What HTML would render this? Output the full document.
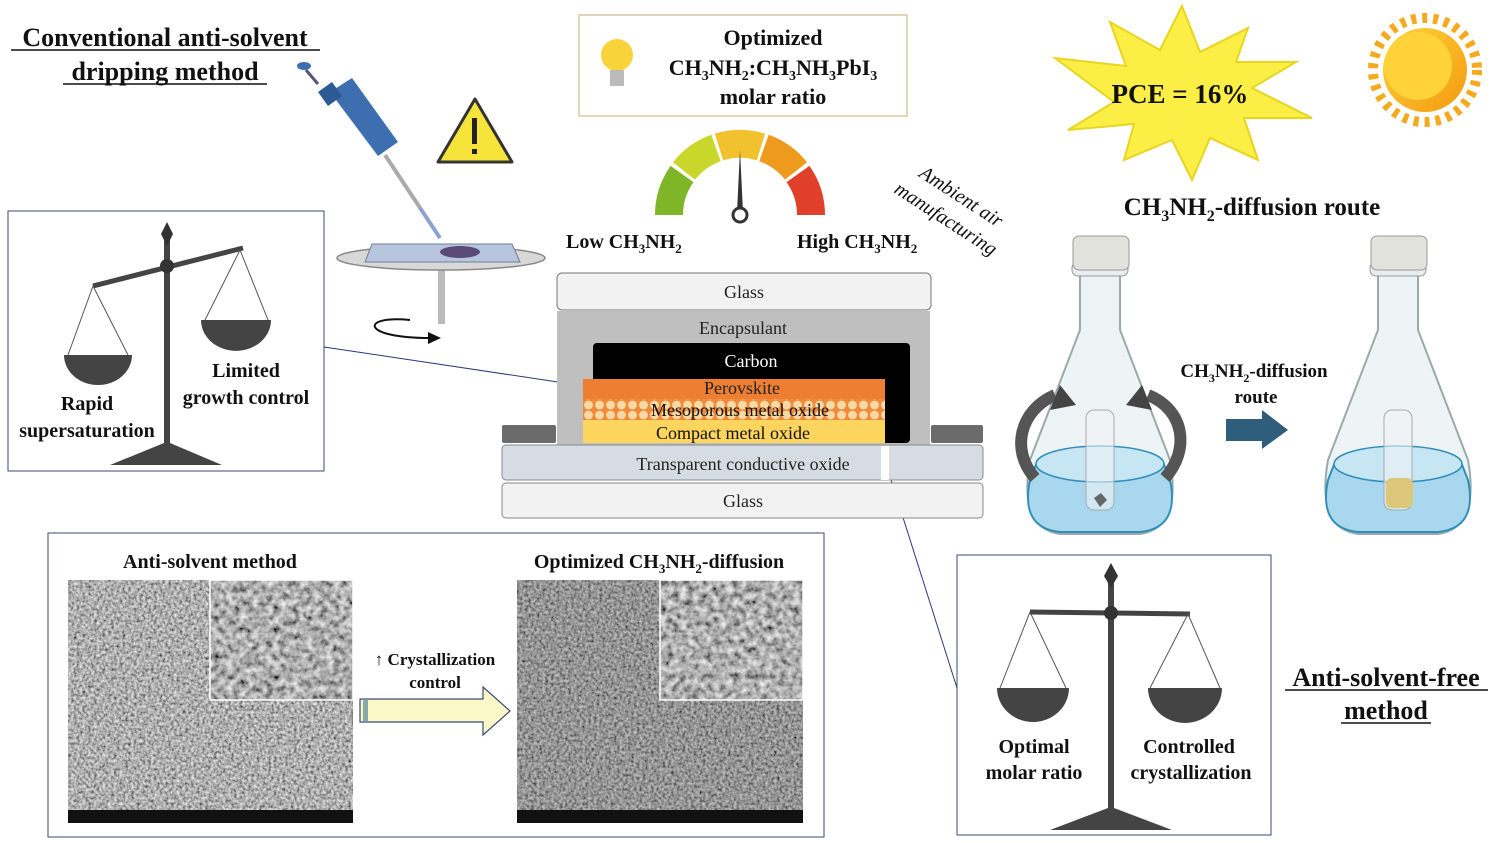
<!DOCTYPE html>
<html><head><meta charset="utf-8"><style>
html,body{margin:0;padding:0;background:#fff;}
svg{display:block;font-family:"Liberation Serif",serif;}
.b{font-weight:bold;}
</style></head><body>
<svg width="1496" height="843" viewBox="0 0 1496 843" xmlns="http://www.w3.org/2000/svg">
<defs>
<filter id="sem" x="0" y="0" width="100%" height="100%">
<feTurbulence type="fractalNoise" baseFrequency="0.35" numOctaves="3" seed="3"/>
<feColorMatrix type="matrix" values="1.1 0 0 0 -0.12  1.1 0 0 0 -0.12  1.1 0 0 0 -0.12  0 0 0 0 1"/>
</filter>
<filter id="sem2" x="0" y="0" width="100%" height="100%">
<feTurbulence type="fractalNoise" baseFrequency="0.15" numOctaves="3" seed="7"/>
<feColorMatrix type="matrix" values="1.2 0 0 0 -0.17  1.2 0 0 0 -0.17  1.2 0 0 0 -0.17  0 0 0 0 1"/>
</filter>
<pattern id="meso" width="11" height="10" patternUnits="userSpaceOnUse">
<rect width="11" height="10" fill="#ee8a3a"/><circle cx="5.5" cy="5" r="4.4" fill="#f6d9a4"/>
</pattern>
<linearGradient id="sunG" x1="0" y1="0" x2="1" y2="1"><stop offset="0" stop-color="#ffd43a"/><stop offset="1" stop-color="#f39a10"/></linearGradient>
</defs>

<text x="165" y="46" text-anchor="middle" class="b" font-size="26" fill="#111">Conventional anti-solvent</text>
<line x1="11" y1="50" x2="320" y2="50" stroke="#111" stroke-width="1.5"/>
<text x="165" y="80" text-anchor="middle" class="b" font-size="26" fill="#111">dripping method</text>
<line x1="63" y1="84" x2="267" y2="84" stroke="#111" stroke-width="1.5"/>

<g>
<line x1="385" y1="155" x2="440" y2="238" stroke="#aaa" stroke-width="4"/>
<line x1="420" y1="208" x2="440" y2="238" stroke="#8aa0d8" stroke-width="3"/>
<polygon points="330,92 352,78 398,142 378,156" fill="#3d6fb0"/>
<polygon points="318,92 332,82 342,96 328,106" fill="#2e5a94"/>
<line x1="318" y1="84" x2="306" y2="70" stroke="#557" stroke-width="3"/>
<ellipse cx="304" cy="66" rx="7" ry="4" fill="#3d6fb0"/>
</g>
<polygon points="475,99 512,162 438,162" fill="#f7e43a" stroke="#333" stroke-width="3" stroke-linejoin="round"/>
<rect x="472" y="118" width="5" height="26" fill="#222"/><rect x="472" y="149" width="5" height="5" fill="#222"/>
<rect x="438" y="262" width="7" height="62" fill="#bbb"/>
<ellipse cx="441" cy="258" rx="104" ry="12" fill="#d8d8d8" stroke="#888" stroke-width="1.5"/>
<polygon points="372,244 512,244 520,262 365,262" fill="#b7c6dc" stroke="#6e7f9a"/>
<ellipse cx="460" cy="252" rx="20" ry="6" fill="#5a4a78"/>
<path d="M410,320 C360,315 360,338 430,338" fill="none" stroke="#111" stroke-width="2"/>
<polygon points="428,332 441,338 428,344" fill="#111"/>

<rect x="8" y="211" width="316" height="260" fill="#fff" stroke="#3a4a7a" stroke-width="1"/>
<polygon points="110,465 222,465 170,443 164,443" fill="#444"/>
<rect x="164" y="238" width="6" height="210" fill="#444"/>
<polygon points="167,222 173,234 167,246 161,234" fill="#333"/>
<line x1="93" y1="286" x2="243" y2="248" stroke="#444" stroke-width="5"/>
<circle cx="167" cy="266" r="7" fill="#333"/>
<line x1="93" y1="286" x2="68" y2="355" stroke="#555"/><line x1="93" y1="286" x2="128" y2="355" stroke="#555"/>
<path d="M64,355 A34,30 0 0 0 132,355 Z" fill="#444"/>
<line x1="240" y1="250" x2="205" y2="320" stroke="#555"/><line x1="240" y1="250" x2="268" y2="320" stroke="#555"/>
<path d="M201,320 A34,30 0 0 0 271,320 Z" fill="#444"/>
<text x="246" y="377" text-anchor="middle" class="b" font-size="20" fill="#111">Limited</text>
<text x="246" y="404" text-anchor="middle" class="b" font-size="20" fill="#111">growth control</text>
<text x="87" y="410" text-anchor="middle" class="b" font-size="20" fill="#111">Rapid</text>
<text x="87" y="437" text-anchor="middle" class="b" font-size="20" fill="#111">supersaturation</text>

<line x1="324" y1="347" x2="598" y2="388" stroke="#2a3a7a" stroke-width="1"/>
<line x1="862" y1="388" x2="957" y2="688" stroke="#2a3a7a" stroke-width="1"/>

<rect x="579" y="15" width="328" height="101" fill="#fff" stroke="#d8c9a0" stroke-width="1.5"/>
<circle cx="617" cy="55" r="16" fill="#f8d43a"/>
<rect x="610" y="70" width="14" height="16" fill="#bbb"/>
<text x="773" y="45" text-anchor="middle" class="b" font-size="22" fill="#111">Optimized</text>
<text x="773" y="75" text-anchor="middle" class="b" font-size="22" fill="#111">CH<tspan font-size="14" dy="5">3</tspan><tspan dy="-5">NH</tspan><tspan font-size="14" dy="5">2</tspan><tspan dy="-5">:CH</tspan><tspan font-size="14" dy="5">3</tspan><tspan dy="-5">NH</tspan><tspan font-size="14" dy="5">3</tspan><tspan dy="-5">PbI</tspan><tspan font-size="14" dy="5">3</tspan></text>
<text x="773" y="104" text-anchor="middle" class="b" font-size="22" fill="#111">molar ratio</text>

<g fill="none" stroke-width="28">
<path d="M669,215 A71,71 0 0 1 682,174" stroke="#7fb628"/>
<path d="M684,171 A71,71 0 0 1 716,148" stroke="#c9d62a"/>
<path d="M719,147 A71,71 0 0 1 761,147" stroke="#f2c12e"/>
<path d="M764,148 A71,71 0 0 1 796,171" stroke="#ee9a1c"/>
<path d="M798,174 A71,71 0 0 1 811,215" stroke="#e0402a"/>
</g>
<polygon points="737,212 740,150 743,212" fill="#333"/>
<circle cx="740" cy="215" r="7" fill="#fff" stroke="#333" stroke-width="3"/>
<text x="566" y="248" class="b" font-size="20" fill="#111">Low CH<tspan font-size="13" dy="5">3</tspan><tspan dy="-5">NH</tspan><tspan font-size="13" dy="5">2</tspan></text>
<text x="797" y="248" class="b" font-size="20" fill="#111">High CH<tspan font-size="13" dy="5">3</tspan><tspan dy="-5">NH</tspan><tspan font-size="13" dy="5">2</tspan></text>
<g transform="translate(918,176) rotate(33)"><text x="0" y="0" font-size="20" font-style="italic" fill="#111">Ambient air</text></g>
<g transform="translate(893,192) rotate(33)"><text x="0" y="0" font-size="20" font-style="italic" fill="#111">manufacturing</text></g>

<rect x="557" y="273" width="374" height="37" rx="5" fill="#f2f2f2" stroke="#777"/>
<text x="744" y="298" text-anchor="middle" font-size="18" fill="#222">Glass</text>
<rect x="557" y="311" width="373" height="134" fill="#bfbfbf"/>
<text x="743" y="334" text-anchor="middle" font-size="18" fill="#222">Encapsulant</text>
<rect x="593" y="343" width="317" height="100" rx="4" fill="#000"/>
<text x="751" y="367" text-anchor="middle" font-size="18" fill="#fff">Carbon</text>
<rect x="583" y="379" width="302" height="22" fill="#ee7e31"/>
<rect x="583" y="399" width="302" height="21" fill="url(#meso)"/>
<rect x="583" y="420" width="302" height="23" fill="#fcd45e"/>
<text x="742" y="394" text-anchor="middle" font-size="18" fill="#222">Perovskite</text>
<text x="740" y="416" text-anchor="middle" font-size="18" fill="#111">Mesoporous metal oxide</text>
<text x="733" y="439" text-anchor="middle" font-size="18" fill="#111">Compact metal oxide</text>
<rect x="502" y="425" width="54" height="18" rx="2" fill="#6b6b6b"/>
<rect x="931" y="425" width="52" height="18" rx="2" fill="#6b6b6b"/>
<rect x="502" y="445" width="481" height="35" rx="4" fill="#d6dce4" stroke="#888"/>
<rect x="881" y="446" width="8" height="34" fill="#fff"/>
<text x="743" y="470" text-anchor="middle" font-size="18" fill="#222">Transparent conductive oxide</text>
<rect x="502" y="483" width="481" height="35" rx="4" fill="#f2f2f2" stroke="#888"/>
<text x="743" y="507" text-anchor="middle" font-size="18" fill="#222">Glass</text>

<polygon points="1182,6 1200,52 1248,28 1236,62 1296,62 1252,88 1312,118 1244,118 1258,160 1210,138 1192,180 1172,140 1124,160 1134,124 1068,130 1114,102 1055,58 1126,66 1110,22 1160,50" fill="#fbee44" stroke="#e8d520" stroke-width="2"/>
<text x="1180" y="103" text-anchor="middle" class="b" font-size="27" fill="#111">PCE = 16%</text>
<circle cx="1425" cy="70" r="52" fill="none" stroke="#f6a91c" stroke-width="10" stroke-dasharray="5 6"/>
<circle cx="1425" cy="70" r="42" fill="url(#sunG)"/>
<circle cx="1418" cy="66" r="34" fill="#ffd23a"/>

<text x="1252" y="215" text-anchor="middle" class="b" font-size="25" fill="#111">CH<tspan font-size="16" dy="6">3</tspan><tspan dy="-6">NH</tspan><tspan font-size="16" dy="6">2</tspan><tspan dy="-6">-diffusion route</tspan></text>

<g id="flask">
<path d="M1080,272 L1080,330 L1030,460 Q1018,528 1060,534 L1140,534 Q1182,528 1170,460 L1120,330 L1120,272 Z" fill="#eef3f6" stroke="#9aa" stroke-width="2"/>
<rect x="1072" y="262" width="56" height="14" rx="6" fill="#e8eef0" stroke="#999"/>
<rect x="1073" y="236" width="56" height="34" rx="6" fill="#e2e2dc" stroke="#999"/>
<path d="M1037,462 L1163,462 L1170,480 Q1180,528 1140,532 L1060,532 Q1020,528 1030,480 Z" fill="#a9d8ee" stroke="#2f8fb8" stroke-width="2"/>
<ellipse cx="1100" cy="464" rx="64" ry="18" fill="#c6e6f3" stroke="#2f8fb8" stroke-width="1.5"/>
<rect x="1086" y="410" width="28" height="100" rx="8" fill="#f0f4f6" fill-opacity="0.6" stroke="#aaa"/>
</g>
<polygon points="1094,498 1101,493 1107,500 1100,507" fill="#666"/>
<path d="M1055,395 C1020,410 1010,450 1035,478" fill="none" stroke="#555" stroke-width="12"/>
<polygon points="1060,385 1076,405 1050,410" fill="#444"/>
<path d="M1148,395 C1185,410 1190,450 1165,478" fill="none" stroke="#555" stroke-width="12"/>
<polygon points="1142,385 1126,405 1152,410" fill="#444"/>
<use href="#flask" x="298"/>
<rect x="1386" y="478" width="27" height="30" rx="6" fill="#dcc77a"/>

<text x="1254" y="377" text-anchor="middle" class="b" font-size="19" fill="#111">CH<tspan font-size="12" dy="5">3</tspan><tspan dy="-5">NH</tspan><tspan font-size="12" dy="5">2</tspan><tspan dy="-5">-diffusion</tspan></text>
<text x="1256" y="403" text-anchor="middle" class="b" font-size="19" fill="#111">route</text>
<polygon points="1226,419 1262,419 1262,410 1288,430 1262,449 1262,441 1226,441" fill="#2f5d7c"/>

<rect x="957" y="555" width="314" height="280" fill="#fff" stroke="#3a4a7a" stroke-width="1"/>
<polygon points="1050,830 1172,830 1114,808 1108,808" fill="#444"/>
<rect x="1108" y="580" width="6" height="232" fill="#444"/>
<polygon points="1111,563 1118,576 1111,588 1104,576" fill="#333"/>
<line x1="1030" y1="612" x2="1190" y2="614" stroke="#444" stroke-width="5"/>
<circle cx="1111" cy="613" r="7" fill="#333"/>
<line x1="1030" y1="612" x2="1000" y2="688" stroke="#555"/><line x1="1030" y1="612" x2="1066" y2="688" stroke="#555"/>
<path d="M997,688 A36,34 0 0 0 1069,688 Z" fill="#444"/>
<line x1="1188" y1="614" x2="1150" y2="688" stroke="#555"/><line x1="1188" y1="614" x2="1220" y2="688" stroke="#555"/>
<path d="M1148,688 A36,34 0 0 0 1222,688 Z" fill="#444"/>
<text x="1034" y="753" text-anchor="middle" class="b" font-size="20" fill="#111">Optimal</text>
<text x="1034" y="779" text-anchor="middle" class="b" font-size="20" fill="#111">molar ratio</text>
<text x="1189" y="753" text-anchor="middle" class="b" font-size="20" fill="#111">Controlled</text>
<text x="1191" y="779" text-anchor="middle" class="b" font-size="20" fill="#111">crystallization</text>

<text x="1386" y="686" text-anchor="middle" class="b" font-size="26" fill="#111">Anti-solvent-free</text>
<line x1="1285" y1="690" x2="1488" y2="690" stroke="#111" stroke-width="1.5"/>
<text x="1386" y="719" text-anchor="middle" class="b" font-size="26" fill="#111">method</text>
<line x1="1341" y1="723" x2="1431" y2="723" stroke="#111" stroke-width="1.5"/>

<rect x="48" y="533" width="776" height="304" fill="#fff" stroke="#3a4a7a" stroke-width="1"/>
<text x="210" y="568" text-anchor="middle" class="b" font-size="20" fill="#111">Anti-solvent method</text>
<text x="659" y="568" text-anchor="middle" class="b" font-size="20" fill="#111">Optimized CH<tspan font-size="13" dy="5">3</tspan><tspan dy="-5">NH</tspan><tspan font-size="13" dy="5">2</tspan><tspan dy="-5">-diffusion</tspan></text>
<rect x="68" y="580" width="285" height="243" filter="url(#sem)"/>
<rect x="210" y="580" width="143" height="120" filter="url(#sem2)"/>
<rect x="210" y="580" width="143" height="120" fill="none" stroke="#fff" stroke-width="1.5"/>
<rect x="68" y="810" width="285" height="13" fill="#111"/>
<rect x="517" y="580" width="286" height="243" filter="url(#sem)"/>
<rect x="517" y="580" width="286" height="243" fill="#000" opacity="0.15"/>
<rect x="660" y="580" width="143" height="120" filter="url(#sem2)"/>
<rect x="660" y="580" width="143" height="120" fill="none" stroke="#fff" stroke-width="1.5"/>
<rect x="517" y="810" width="286" height="13" fill="#111"/>
<text x="435" y="665" text-anchor="middle" class="b" font-size="17" fill="#111">↑ Crystallization</text>
<text x="435" y="688" text-anchor="middle" class="b" font-size="17" fill="#111">control</text>
<polygon points="360,699 483,699 483,687 510,711 483,735 483,722 360,722" fill="#fbf8c8" stroke="#3a4a7a" stroke-width="1.2"/>
<rect x="363" y="700" width="5" height="21" fill="#8aa"/>
</svg>
</body></html>
